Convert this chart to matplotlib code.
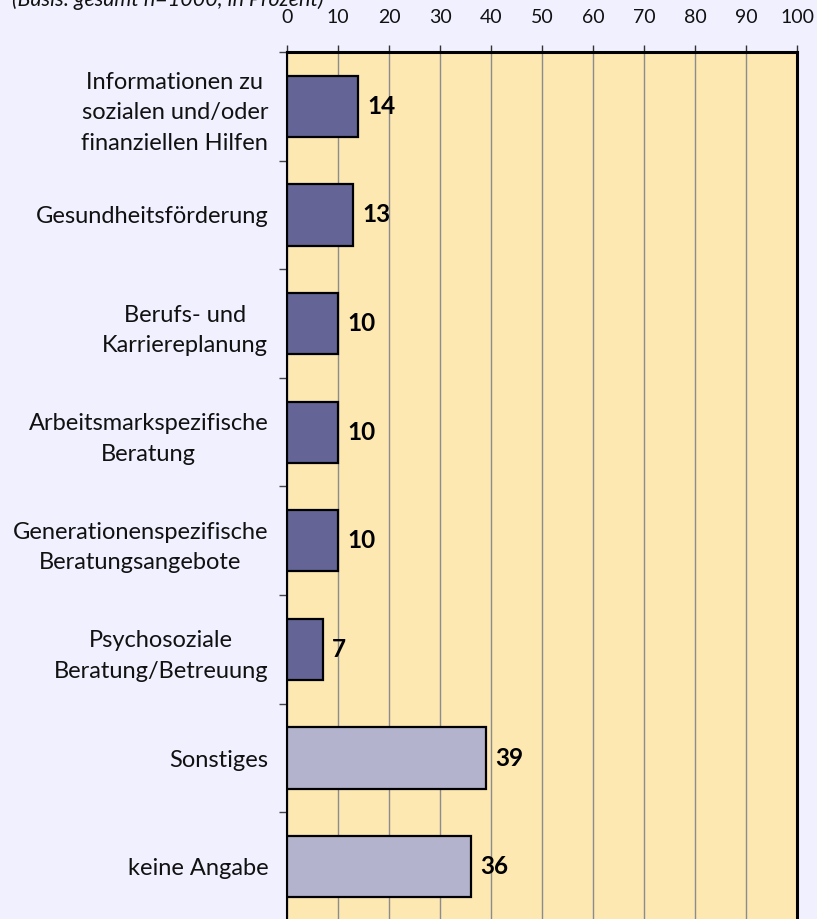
import matplotlib.pyplot as plt

# data
categories = [
    "Informationen zu\nsozialen und/oder\nfinanziellen Hilfen",
    "Gesundheitsförderung",
    "Berufs- und\nKarriereplanung",
    "Arbeitsmarkspezifische\nBeratung",
    "Generationenspezifische\nBeratungsangebote",
    "Psychosoziale\nBeratung/Betreuung",
    "Sonstiges",
    "keine Angabe",
]
values = [14, 13, 10, 10, 10, 7, 39, 36]
is_other = [False, False, False, False, False, False, True, True]
x_ticks = list(range(0, 101, 10))

plt.rcParams['font.family'] = ['Lato', 'DejaVu Sans']

FIG_BG = '#F0F0FF'
PLOT_BG = '#FDE8B2'
DARK = '#646496'
LIGHT = '#B3B3CE'

W, H = 817, 919
fig = plt.figure(figsize=(W / 100, H / 100), dpi=100, facecolor=FIG_BG)
ax = fig.add_axes([287 / W, (H - 921) / H, 510 / W, 869 / H])
ax.set_facecolor(PLOT_BG)

ypos = list(range(len(categories)))
colors = [LIGHT if o else DARK for o in is_other]
ax.barh(ypos, values, height=0.565, color=colors, edgecolor='black',
        linewidth=1.6, zorder=3)

for y, v in zip(ypos, values):
    ax.text(v + 1.8, y, str(v), va='center', ha='left', fontsize=17.5,
            fontweight='bold', color='black', zorder=4)

ax.set_xlim(0, 100)
ax.set_ylim(len(categories) - 0.5, -0.5)

# top axis
ax.xaxis.tick_top()
ax.set_xticks(x_ticks)
ax.set_xticklabels([str(t) for t in x_ticks])
ax.tick_params(axis='x', length=5, width=1, color='#333333', pad=14,
               labelsize=14, labelcolor='#111111')
ax.grid(axis='x', color='#8c8c8c', linewidth=1, zorder=1)

# category labels and boundary ticks
ax.set_yticks(ypos)
ax.set_yticklabels(categories, linespacing=1.55)
ax.tick_params(axis='y', which='major', length=0, pad=13.5, labelsize=17,
               labelcolor='#111111')
for lbl in ax.get_yticklabels():
    lbl.set_multialignment('center')
ax.set_yticks([i - 0.5 for i in range(len(categories) + 1)], minor=True)
ax.tick_params(axis='y', which='minor', length=6, width=1, color='#444444')

for side in ['top', 'right']:
    ax.spines[side].set_linewidth(2.2)
ax.spines['left'].set_linewidth(1.5)
ax.spines['bottom'].set_visible(False)

fig.text(12 / W, 1 - 6 / H, "(Basis: gesamt n=1000, in Prozent)",
         style='italic', fontsize=15.5, va='baseline', ha='left', color='#111111')

fig.savefig('out.png', dpi=100, facecolor=FIG_BG)
